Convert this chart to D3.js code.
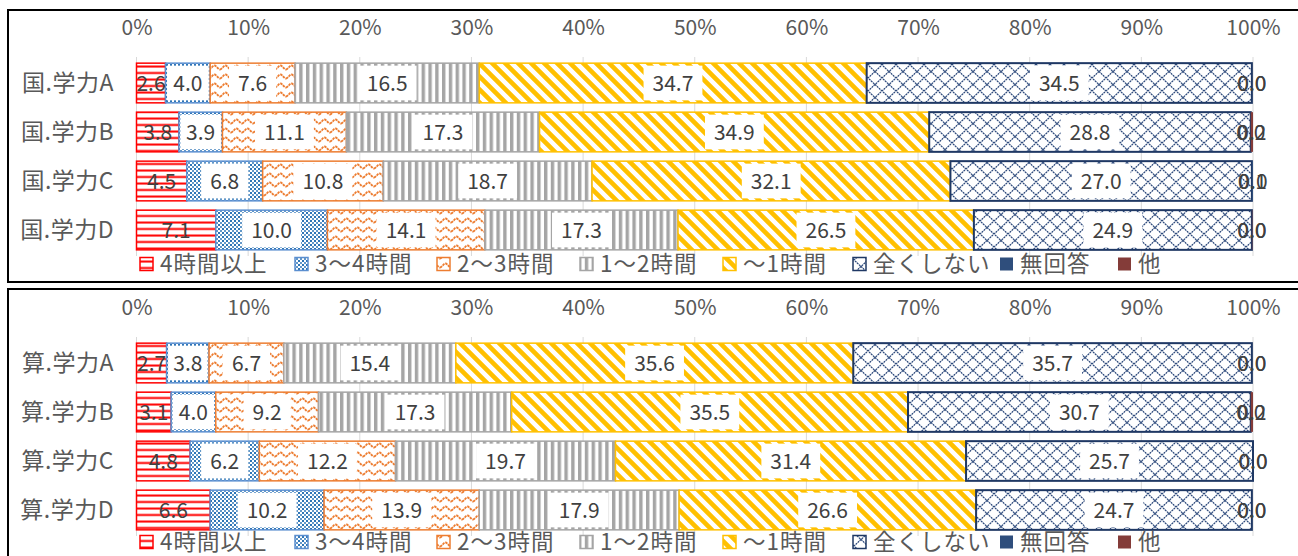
<!DOCTYPE html>
<html><head><meta charset="utf-8">
<script src="https://cdn.jsdelivr.net/npm/d3@7"></script>
<style>
body{margin:0;background:#fff;}
svg{display:block;font-family:'Noto Sans CJK JP','Noto Sans',sans-serif;}
</style>
</head><body>
<svg id="c" width="1298" height="556"></svg>
<script>
// ---- data ----
const seriesNames = ["4時間以上","3～4時間","2～3時間","1～2時間","～1時間","全くしない","無回答","他"];
const kokugoCategories = ["国.学力A","国.学力B","国.学力C","国.学力D"];
const sansuCategories = ["算.学力A","算.学力B","算.学力C","算.学力D"];
// one row per category, values in seriesNames order (percent)
const kokugoValues = [
  [2.6, 4.0, 7.6, 16.5, 34.7, 34.5, 0.0, 0.0],
  [3.8, 3.9, 11.1, 17.3, 34.9, 28.8, 0.0, 0.2],
  [4.5, 6.8, 10.8, 18.7, 32.1, 27.0, 0.1, 0.0],
  [7.1, 10.0, 14.1, 17.3, 26.5, 24.9, 0.0, 0.04]
];
const sansuValues = [
  [2.7, 3.8, 6.7, 15.4, 35.6, 35.7, 0.0, 0.0],
  [3.1, 4.0, 9.2, 17.3, 35.5, 30.7, 0.0, 0.2],
  [4.8, 6.2, 12.2, 19.7, 31.4, 25.7, 0.0, 0.0],
  [6.6, 10.2, 13.9, 17.9, 26.6, 24.7, 0.0, 0.0]
];
const tickValues = [0,10,20,30,40,50,60,70,80,90,100];
const tickLabels = ["0%","10%","20%","30%","40%","50%","60%","70%","80%","90%","100%"];

// ---- styles ----
const strokeColors = ["#FF0000","#5B8FD0","#ED7D31","#A5A5A5","#FFC000","#1F3864","#2F4E7C","#843C39"];
const svg = d3.select("#c");
const defs = svg.append("defs");
function pat(id, w, h, draw){
  const p = defs.append("pattern").attr("id", id).attr("patternUnits","userSpaceOnUse")
    .attr("width", w).attr("height", h);
  p.append("rect").attr("width", w).attr("height", h).attr("fill", "#fff");
  draw(p, w, h);
}
pat("p0", 8, 6.5, p => p.append("rect").attr("y", 0.5).attr("width", 8).attr("height", 2).attr("fill", "#FF0000"));
pat("p1", 4, 4, p => {
  p.append("rect").attr("width",4).attr("height",4).attr("fill","#2E75B6");
  p.append("rect").attr("x",0).attr("y",0).attr("width",2).attr("height",2).attr("fill","#fff");
  p.append("rect").attr("x",2).attr("y",2).attr("width",2).attr("height",2).attr("fill","#fff");
  p.append("rect").attr("x",0.5).attr("y",2.5).attr("width",1).attr("height",1).attr("fill","#fff");
});
pat("p2", 11, 9, p => p.append("path")
  .attr("d","M0,6.5 C1.8,6.5 3.6,2.5 5.5,2.5 C7.4,2.5 9.2,6.5 11,6.5")
  .attr("fill","none").attr("stroke","#ED7D31").attr("stroke-width",1.8).attr("stroke-dasharray","2.5,0.8"));
pat("p3", 6.8, 10, p => p.append("rect").attr("x",0).attr("width",3.4).attr("height",10).attr("fill","#A5A5A5"));
pat("p4", 13, 13, p => p.append("path")
  .attr("d","M-2,-2 L15,15 M-7,6 L7,20 M6,-7 L20,7")
  .attr("stroke","#FFC000").attr("stroke-width",4.6).attr("fill","none"));
pat("p5", 14, 13, p => p.append("path")
  .attr("d","M-1,-0.93 L15,13.93 M15,-0.93 L-1,13.93")
  .attr("stroke","#264478").attr("stroke-width",1.2).attr("fill","none").attr("stroke-dasharray","2,0.7"));
const fills = ["url(#p0)","url(#p1)","url(#p2)","url(#p3)","url(#p4)","url(#p5)","#2F4E7C","#843C39"];

const x = d3.scaleLinear().domain([0,100]).range([136.5, 1253]);
const fmt = d3.format(".1f");

// panel frames
svg.append("rect").attr("x",8).attr("y",10).attr("width",1300).attr("height",272)
  .attr("fill","none").attr("stroke","#000").attr("stroke-width",2);
svg.append("rect").attr("x",8).attr("y",289).attr("width",1300).attr("height",300)
  .attr("fill","none").attr("stroke","#000").attr("stroke-width",2);

function panel(categories, values, off, legendY){
  const g = svg.append("g");
  const y = d3.scaleBand().domain(categories).range([58.5+off, 254.5+off]).paddingInner(0.19).paddingOuter(0.095);

  // gridlines
  g.selectAll(".grid").data(tickValues).join("line")
    .attr("x1", d => x(d)).attr("x2", d => x(d))
    .attr("y1", 57+off).attr("y2", 256+off)
    .attr("stroke","#D9D9D9").attr("stroke-width",1);

  // top axis
  const ax = d3.axisTop(x).tickValues(tickValues).tickSize(0).tickPadding(0)
    .tickFormat((d,i) => tickLabels[i]);
  const axg = g.append("g").attr("transform", `translate(0,${35+off})`).call(ax);
  axg.select(".domain").remove();
  axg.selectAll("text").attr("font-size",21).attr("fill","#595959")
    .attr("font-family","'Noto Sans CJK JP','Noto Sans',sans-serif");

  // category axis
  const ay = d3.axisLeft(y).tickSize(0).tickPadding(0);
  const ayg = g.append("g").attr("transform", `translate(114,0)`).call(ay);
  ayg.select(".domain").remove();
  ayg.selectAll("text").attr("font-size",23).attr("fill","#595959").attr("letter-spacing","0.5px")
    .attr("font-family","'Noto Sans CJK JP','Noto Sans',sans-serif").attr("dy","0.35em");

  // stack
  const rows = categories.map((c,i) => {
    const o = {cat:c}; seriesNames.forEach((s,j) => o[s] = values[i][j]); return o;
  });
  const stack = d3.stack().keys(seriesNames)(rows);

  stack.forEach((layer, si) => {
    g.append("g").selectAll("rect").data(layer).join("rect")
      .attr("x", d => x(d[0])).attr("width", d => Math.max(0, x(d[1]) - x(d[0])))
      .attr("y", d => y(d.data.cat)).attr("height", y.bandwidth())
      .attr("fill", fills[si])
      .attr("stroke", si < 6 ? strokeColors[si] : "none").attr("stroke-width", si === 5 ? 2 : 1.5);
  });

  // labels
  stack.forEach((layer, si) => {
    layer.forEach(d => {
      const cx = x((d[0] + d[1]) / 2);
      const cy = y(d.data.cat) + y.bandwidth() / 2;
      const lg = g.append("g");
      const box = lg.append("rect");
      const t = lg.append("text").attr("x", cx).attr("y", cy).attr("dy","0.36em")
        .attr("text-anchor","middle").attr("font-size",21).attr("fill","#404040")
        .text(fmt(d[1] - d[0]));
      if (si >= 1 && si <= 5) {
        const tw = t.node().getComputedTextLength();
        const segW = x(d[1]) - x(d[0]);
        const bw = Math.min(tw + 18, segW - 3);
        box.attr("x", cx - bw/2).attr("y", y(d.data.cat) + 2.5).attr("width", bw)
          .attr("height", y.bandwidth() - 5).attr("fill", "#fff");
      } else box.remove();
    });
  });

  // legend
  const legX = [140, 295, 437, 580, 723, 853, 1000, 1118];
  const lg = g.append("g");
  seriesNames.forEach((s, i) => {
    lg.append("rect").attr("x", legX[i]).attr("y", legendY - 6.5).attr("width", 13).attr("height", 13)
      .attr("fill", fills[i]).attr("stroke", i < 6 ? strokeColors[i] : "none").attr("stroke-width", 1.5);
    lg.append("text").attr("x", legX[i] + 20).attr("y", legendY).attr("dy","0.36em")
      .attr("font-size",22.5).attr("fill","#595959").attr("letter-spacing","1px").text(s);
  });
}

panel(kokugoCategories, kokugoValues, 0, 264);
panel(sansuCategories, sansuValues, 280, 542);
</script>
</body></html>
